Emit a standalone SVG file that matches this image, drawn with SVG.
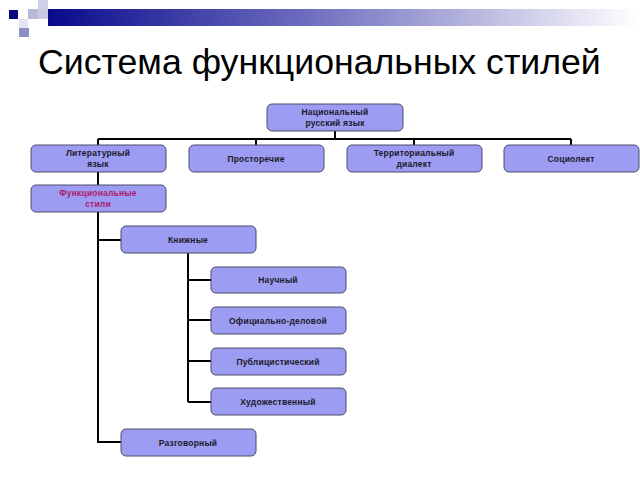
<svg xmlns="http://www.w3.org/2000/svg" width="640" height="480" viewBox="0 0 640 480">
<style>
.n rect{fill:#9c9cf2;stroke:#4a4a6a;stroke-width:1}
.n text{font-family:"Liberation Sans",Arial,sans-serif;font-size:8.5px;font-weight:bold;fill:#1a1a2a;text-anchor:middle;letter-spacing:0.2px}
.n text.f{fill:#b01a6a}
#connectors path{fill:none;stroke:#000;stroke-width:2}
.title{font-family:"Liberation Sans",Arial,sans-serif;font-size:35.7px;fill:#000}
</style>
<defs>
<linearGradient id="bar" x1="0" y1="0" x2="1" y2="0">
<stop offset="0" stop-color="#0a0a8c"/>
<stop offset="0.45" stop-color="#7070c0"/>
<stop offset="1" stop-color="#ffffff"/>
</linearGradient>
</defs>
<rect x="0" y="0" width="640" height="480" fill="#fff"/>
<g id="decor">
<rect x="48" y="9" width="590" height="17" fill="url(#bar)"/>
<rect x="9" y="10" width="9" height="9" fill="#0a0a80"/>
<rect x="28" y="9" width="10" height="10" fill="#b8b8d8"/>
<rect x="38" y="0" width="10" height="10" fill="#d0d0e8"/>
<rect x="38" y="10" width="10" height="9" fill="#c8c8e4"/>
<rect x="19" y="19" width="9" height="9" fill="#e4e4f2"/>
<rect x="19" y="28" width="10" height="9" fill="#9090c8"/>
</g>
<text class="title" x="38" y="74">Система функциональных стилей</text>
<g id="connectors">
<path d="M335 131V139M98 139H571M98 139V145M256 139V145M414 139V145M571 139V145"/>
<path d="M98 172V185"/>
<path d="M98 212V442H121M98 240H121"/>
<path d="M188 253V402M188 280H211M188 320H211M188 361H211M188 402H211"/>
</g>
<g id="n-nac" class="n"><rect x="267" y="104" width="136" height="27" rx="5"/><text x="335" y="115">Национальный</text><text x="335" y="126">русский язык</text></g>
<g id="n-lit" class="n"><rect x="31" y="145" width="135" height="27" rx="5"/><text x="98" y="156">Литературный</text><text x="98" y="167">язык</text></g>
<g id="n-pro" class="n"><rect x="189" y="145" width="135" height="27" rx="5"/><text x="256" y="161.5">Просторечие</text></g>
<g id="n-ter" class="n"><rect x="347" y="145" width="135" height="27" rx="5"/><text x="414" y="156">Территориальный</text><text x="414" y="167">диалект</text></g>
<g id="n-soc" class="n"><rect x="504" y="145" width="135" height="27" rx="5"/><text x="571" y="161.5">Социолект</text></g>
<g id="n-fun" class="n"><rect x="31" y="185" width="135" height="27" rx="5"/><text class="f" x="98" y="196">Функциональные</text><text class="f" x="98" y="207">стили</text></g>
<g id="n-kni" class="n"><rect x="121" y="226" width="135" height="27" rx="5"/><text x="188" y="242.5">Книжные</text></g>
<g id="n-nau" class="n"><rect x="211" y="267" width="135" height="26" rx="5"/><text x="278" y="283">Научный</text></g>
<g id="n-off" class="n"><rect x="211" y="307" width="135" height="27" rx="5"/><text x="278" y="323.5">Официально-деловой</text></g>
<g id="n-pub" class="n"><rect x="211" y="348" width="135" height="27" rx="5"/><text x="278" y="364.5">Публицистический</text></g>
<g id="n-hud" class="n"><rect x="211" y="388" width="135" height="27" rx="5"/><text x="278" y="404.5">Художественный</text></g>
<g id="n-raz" class="n"><rect x="121" y="429" width="135" height="27" rx="5"/><text x="188" y="445.5">Разговорный</text></g>
</svg>
